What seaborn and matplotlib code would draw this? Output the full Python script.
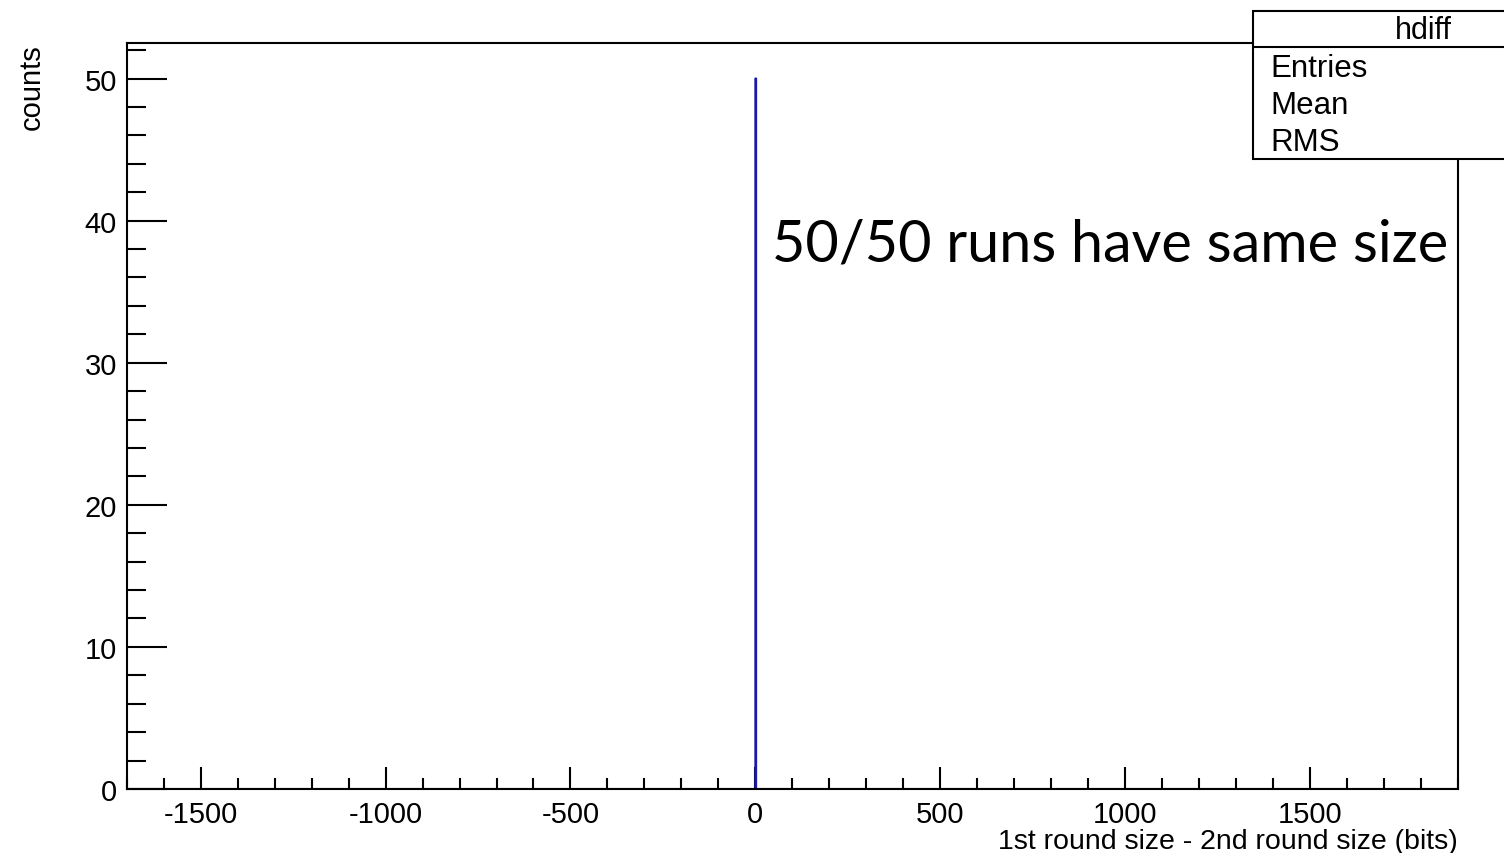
import matplotlib
matplotlib.use("Agg")
import matplotlib.pyplot as plt
from matplotlib.patches import Rectangle
from matplotlib.lines import Line2D
from matplotlib.ticker import MultipleLocator
import seaborn as sns

# histogram content: difference of sizes (bits) and number of runs
diff_centers = [0]
diff_counts = [50]
x_range = (-1700, 1900)

stat_labels = ["Entries", "Mean", "RMS"]
hist_name = "hdiff"
note = "50/50 runs have same size"

sns.set_style("ticks")
plt.rcParams['font.family'] = ['Liberation Sans', 'DejaVu Sans']
plt.rcParams['axes.unicode_minus'] = False
for k in ['text.color', 'axes.labelcolor', 'xtick.color', 'ytick.color']:
    plt.rcParams[k] = 'black'

W, H = 1504, 854
fig = plt.figure(figsize=(W / 100, H / 100), dpi=100)
ax = fig.add_axes([126.7 / W, 1 - 790 / H, (1458 - 126.7) / W, (790 - 44) / H])

sns.histplot(x=diff_centers, weights=diff_counts, binwidth=2, binrange=x_range,
             element="step", fill=False, color="#1a1aaa", linewidth=1.5, ax=ax)

ax.set_xlim(*x_range)
ax.set_ylim(0, 52.5)
ax.xaxis.set_major_locator(MultipleLocator(500))
ax.xaxis.set_minor_locator(MultipleLocator(100))
ax.yaxis.set_major_locator(MultipleLocator(10))
ax.yaxis.set_minor_locator(MultipleLocator(2))

ax.tick_params(axis="both", which="both", direction="in", width=1.5,
               color="black", labelsize=21, top=False, right=False)
ax.tick_params(axis="x", which="major", length=16, pad=8)
ax.tick_params(axis="x", which="minor", length=8)
ax.tick_params(axis="y", which="major", length=29, pad=7)
ax.tick_params(axis="y", which="minor", length=14)
for s in ax.spines.values():
    s.set_linewidth(1.5)
    s.set_color("black")

ax.set_xlabel("1st round size - 2nd round size (bits)", fontsize=20.5, loc="right", labelpad=0)
ax.set_ylabel("counts", fontsize=21, loc="top", labelpad=28)

# stats box (partly outside the canvas like the original)
bx0, bx1, by0, by1, bsep = 1253, 1593, 12, 160, 48
fig.add_artist(Rectangle((bx0 / W, 1 - by1 / H), (bx1 - bx0) / W, (by1 - by0) / H,
                         transform=fig.transFigure, facecolor="white",
                         edgecolor="black", linewidth=1.5, zorder=5))
fig.add_artist(Line2D([bx0 / W, bx1 / W], [1 - bsep / H, 1 - bsep / H],
                      transform=fig.transFigure, color="black", linewidth=1.5, zorder=6))
fig.text(1423 / W, 1 - 31 / H, hist_name, ha="center", va="center", fontsize=22, zorder=7)
for i, lab in enumerate(stat_labels):
    fig.text(1270 / W, 1 - (69 + 37 * i) / H, lab, ha="left", va="center", fontsize=22.5, zorder=7)

fig.text(772 / W, 1 - 262 / H, note, ha="left", va="baseline",
         fontsize=41.5, family=["Lato", "DejaVu Sans"])

fig.savefig("out.png", dpi=100)
